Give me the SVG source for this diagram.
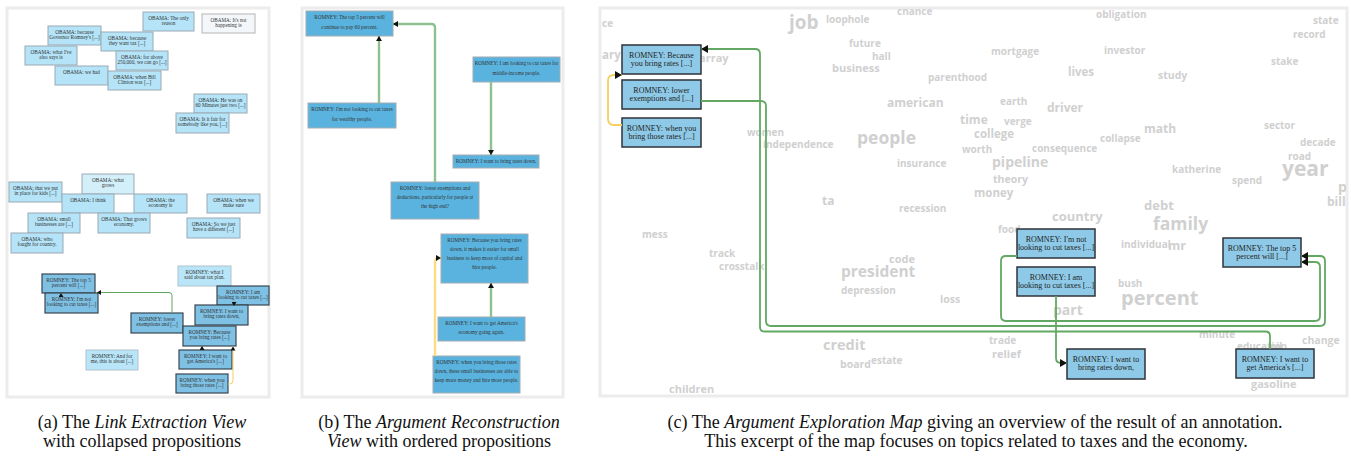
<svg xmlns="http://www.w3.org/2000/svg" width="1351" height="462" viewBox="0 0 1351 462">
<style>
.frame{fill:#fff;stroke:#ececec;stroke-width:3}
.oa{fill:#b5e4f8;stroke:#9aaab4;stroke-width:1}
.ol{fill:#d3f0fa;stroke:#9aaab4;stroke-width:1}
.og{fill:#f3f7fa;stroke:#b4b4b4;stroke-width:1}
.ra{fill:#7fc1e4;stroke:#3a4650;stroke-width:1.2}
.rl{fill:#b8e6f8;stroke:#b0c4cc;stroke-width:1}
.rb{fill:#5ab3df;stroke:#a4acb4;stroke-width:1}
.rc{fill:#8ecae8;stroke:#2e3338;stroke-width:1.5}
.ta{font-family:"Liberation Serif",serif;font-size:5.2px;fill:#333;text-anchor:middle}
.tb{font-family:"Liberation Serif",serif;font-size:5.2px;fill:#333;text-anchor:middle}
.tc{font-family:"Liberation Serif",serif;font-size:8px;fill:#222;text-anchor:middle}
.w{font-family:"Open Sans",sans-serif;font-weight:700;fill:#d0d0d0}
.ga{fill:none;stroke:#5fa55f;stroke-width:1}
.ya{fill:none;stroke:#f5cf62;stroke-width:1}
.gb{fill:none;stroke:#8fc08f;stroke-width:2.4}
.yb{fill:none;stroke:#fbdc84;stroke-width:2.4}
.gc{fill:none;stroke:#62a862;stroke-width:1.8}
.yc{fill:none;stroke:#f5cf62;stroke-width:1.8}
.cap{font-family:"Liberation Serif",serif;font-size:18px;fill:#111;text-anchor:middle}
</style>
<defs>
<marker id="ma" markerUnits="userSpaceOnUse" markerWidth="5" markerHeight="5" refX="4" refY="2.5" orient="auto"><path d="M0,0 L4,2.5 L0,5 z" fill="#111"/></marker>
<marker id="mb" markerUnits="userSpaceOnUse" markerWidth="6" markerHeight="6" refX="5" refY="3" orient="auto"><path d="M0,0 L5,3 L0,6 z" fill="#111"/></marker>
<marker id="mc" markerUnits="userSpaceOnUse" markerWidth="8" markerHeight="8" refX="7" refY="4" orient="auto"><path d="M0,0 L7,4 L0,8 z" fill="#111"/></marker>
<clipPath id="cc"><rect x="601" y="9" width="745" height="386"/></clipPath>
</defs>
<rect x="0" y="0" width="1351" height="462" fill="#fff"/>
<g id="frames">
<rect class="frame" x="7" y="8" width="262" height="389"/>
<rect class="frame" x="302" y="8" width="261" height="389"/>
<rect class="frame" x="600" y="8" width="747" height="388"/>
</g>
<g id="wordcloud" clip-path="url(#cc)">
<text class="w" x="602" y="27" font-size="10">ce</text>
<text class="w" x="789" y="29" font-size="19">job</text>
<text class="w" x="826" y="23" font-size="10">loophole</text>
<text class="w" x="897" y="15" font-size="10">chance</text>
<text class="w" x="1096" y="18" font-size="10">obligation</text>
<text class="w" x="1313" y="24" font-size="10">state</text>
<text class="w" x="1293" y="38" font-size="10">record</text>
<text class="w" x="602" y="59" font-size="11.5">ary</text>
<text class="w" x="699" y="62" font-size="11">array</text>
<text class="w" x="849" y="47" font-size="10">future</text>
<text class="w" x="872" y="60" font-size="10">hall</text>
<text class="w" x="832" y="72" font-size="11">business</text>
<text class="w" x="928" y="81" font-size="10">parenthood</text>
<text class="w" x="991" y="55" font-size="10">mortgage</text>
<text class="w" x="1104" y="54" font-size="10">investor</text>
<text class="w" x="1271" y="65" font-size="10">stake</text>
<text class="w" x="1068" y="76" font-size="11.5">lives</text>
<text class="w" x="1158" y="79" font-size="10.5">study</text>
<text class="w" x="887" y="107" font-size="12">american</text>
<text class="w" x="1000" y="105" font-size="10">earth</text>
<text class="w" x="1047" y="112" font-size="12">driver</text>
<text class="w" x="960" y="124" font-size="12">time</text>
<text class="w" x="1004" y="125" font-size="10">verge</text>
<text class="w" x="1144" y="133" font-size="12">math</text>
<text class="w" x="1264" y="129" font-size="10">sector</text>
<text class="w" x="974" y="138" font-size="11.5">college</text>
<text class="w" x="1100" y="142" font-size="10">collapse</text>
<text class="w" x="747" y="136" font-size="10">women</text>
<text class="w" x="763" y="148" font-size="10">independence</text>
<text class="w" x="857" y="144" font-size="17.5">people</text>
<text class="w" x="962" y="153" font-size="10">worth</text>
<text class="w" x="1032" y="152" font-size="10">consequence</text>
<text class="w" x="1300" y="146" font-size="10">decade</text>
<text class="w" x="1288" y="160" font-size="10">road</text>
<text class="w" x="897" y="167" font-size="10">insurance</text>
<text class="w" x="992" y="167" font-size="14">pipeline</text>
<text class="w" x="1172" y="173" font-size="10">katherine</text>
<text class="w" x="1282" y="176" font-size="21">year</text>
<text class="w" x="1232" y="184" font-size="10">spend</text>
<text class="w" x="993" y="183" font-size="10.5">theory</text>
<text class="w" x="974" y="197" font-size="11.5">money</text>
<text class="w" x="1338" y="192" font-size="14">pl</text>
<text class="w" x="822" y="205" font-size="12">ta</text>
<text class="w" x="899" y="212" font-size="10">recession</text>
<text class="w" x="1327" y="206" font-size="12">bill</text>
<text class="w" x="1144" y="210" font-size="13">debt</text>
<text class="w" x="1052" y="221" font-size="13">country</text>
<text class="w" x="1153" y="230" font-size="17.5">family</text>
<text class="w" x="998" y="233" font-size="10">food</text>
<text class="w" x="1121" y="248" font-size="10">individual</text>
<text class="w" x="1168" y="250" font-size="12.5">mr</text>
<text class="w" x="642" y="238" font-size="10">mess</text>
<text class="w" x="709" y="257" font-size="10">track</text>
<text class="w" x="719" y="270" font-size="10">crosstalk</text>
<text class="w" x="889" y="263" font-size="11">code</text>
<text class="w" x="841" y="277" font-size="15.5">president</text>
<text class="w" x="1118" y="287" font-size="10">bush</text>
<text class="w" x="841" y="294" font-size="10">depression</text>
<text class="w" x="940" y="303" font-size="10.5">loss</text>
<text class="w" x="1121" y="305" font-size="20">percent</text>
<text class="w" x="1053" y="315" font-size="14">part</text>
<text class="w" x="1199" y="338" font-size="10">minute</text>
<text class="w" x="989" y="344" font-size="10">trade</text>
<text class="w" x="1302" y="344" font-size="10.5">change</text>
<text class="w" x="823" y="350" font-size="14.5">credit</text>
<text class="w" x="992" y="358" font-size="11">relief</text>
<text class="w" x="1237" y="350" font-size="10">education</text>
<text class="w" x="1270" y="350" font-size="10">oil</text>
<text class="w" x="840" y="368" font-size="10.5">board</text>
<text class="w" x="871" y="364" font-size="10">estate</text>
<text class="w" x="1251" y="388" font-size="11">gasoline</text>
<text class="w" x="669" y="393" font-size="11">children</text>
</g>
<g id="panel-a">
<g id="a1"><rect class="oa" x="143" y="12" width="51" height="19"/><text class="ta" x="168.5" y="19.5">OBAMA: The only</text><text class="ta" x="168.5" y="25">reason</text></g>
<g id="a2"><rect class="og" x="202" y="14" width="53" height="19"/><text class="ta" x="228.5" y="21.5">OBAMA: It's not</text><text class="ta" x="228.5" y="27">happening is</text></g>
<g id="a3"><rect class="oa" x="48" y="26" width="53" height="19"/><text class="ta" x="74.5" y="33.5">OBAMA: because</text><text class="ta" x="74.5" y="39">Governor Romney's [...]</text></g>
<g id="a4"><rect class="oa" x="101" y="32" width="52" height="19"/><text class="ta" x="127" y="39.5">OBAMA: because</text><text class="ta" x="127" y="45">they want tax [...]</text></g>
<g id="a5"><rect class="oa" x="25" y="46" width="52" height="19"/><text class="ta" x="51" y="53.5">OBAMA: what I've</text><text class="ta" x="51" y="59">also says is</text></g>
<g id="a6"><rect class="oa" x="116" y="51" width="52" height="19"/><text class="ta" x="142" y="58.5">OBAMA: for above</text><text class="ta" x="142" y="64">250,000, we can go [...]</text></g>
<g id="a7"><rect class="oa" x="55" y="66" width="53" height="19"/><text class="ta" x="81.5" y="74">OBAMA: we had</text></g>
<g id="a8"><rect class="oa" x="108" y="71" width="53" height="19"/><text class="ta" x="134.5" y="78.5">OBAMA: when Bill</text><text class="ta" x="134.5" y="84">Clinton was [...]</text></g>
<g id="a9"><rect class="oa" x="194" y="94" width="53" height="19"/><text class="ta" x="220.5" y="101.5">OBAMA: He was on</text><text class="ta" x="220.5" y="107">60 Minutes just two [...]</text></g>
<g id="a10"><rect class="oa" x="176" y="113" width="53" height="20"/><text class="ta" x="202.5" y="120.5">OBAMA: Is it fair for</text><text class="ta" x="202.5" y="126">somebody like you, [...]</text></g>
<g id="a11"><rect class="ol" x="82" y="174" width="52" height="20"/><text class="ta" x="108" y="181.5">OBAMA: what</text><text class="ta" x="108" y="187">grows</text></g>
<g id="a12"><rect class="oa" x="9" y="182" width="53" height="20"/><text class="ta" x="35.5" y="189.5">OBAMA: that we put</text><text class="ta" x="35.5" y="195">in place for kids [...]</text></g>
<g id="a13"><rect class="oa" x="62" y="194" width="52" height="19"/><text class="ta" x="88" y="202">OBAMA: I think</text></g>
<g id="a14"><rect class="oa" x="134" y="194" width="53" height="19"/><text class="ta" x="160.5" y="201.5">OBAMA: the</text><text class="ta" x="160.5" y="207">economy is</text></g>
<g id="a15"><rect class="oa" x="207" y="194" width="53" height="19"/><text class="ta" x="233.5" y="201.5">OBAMA: when we</text><text class="ta" x="233.5" y="207">make sure</text></g>
<g id="a16"><rect class="oa" x="28" y="213" width="52" height="20"/><text class="ta" x="54" y="220.5">OBAMA: small</text><text class="ta" x="54" y="226">businesses are [...]</text></g>
<g id="a17"><rect class="oa" x="98" y="213" width="52" height="20"/><text class="ta" x="124" y="220.5">OBAMA: That grows</text><text class="ta" x="124" y="226">economy.</text></g>
<g id="a18"><rect class="oa" x="187" y="218" width="53" height="20"/><text class="ta" x="213.5" y="225.5">OBAMA: So we just</text><text class="ta" x="213.5" y="231">have a different [...]</text></g>
<g id="a19"><rect class="oa" x="11" y="233" width="52" height="20"/><text class="ta" x="37" y="240.5">OBAMA: who</text><text class="ta" x="37" y="246">fought for country.</text></g>
<g id="a20"><rect class="rl" x="178" y="266" width="53" height="20"/><text class="ta" x="204.5" y="273.5">ROMNEY: what I</text><text class="ta" x="204.5" y="279">said about tax plan.</text></g>
<g id="a21"><rect class="ra" x="42" y="274" width="53" height="19"/><text class="ta" x="68.5" y="281.5">ROMNEY: The top 5</text><text class="ta" x="68.5" y="287">percent will [...]</text></g>
<g id="a22"><rect class="ra" x="45" y="293" width="53" height="20"/><text class="ta" x="71.5" y="300.5">ROMNEY: I'm not</text><text class="ta" x="71.5" y="306">looking to cut taxes [...]</text></g>
<g id="a23"><rect class="ra" x="217" y="286" width="52" height="19"/><text class="ta" x="243" y="293.5">ROMNEY: I am</text><text class="ta" x="243" y="299">looking to cut taxes [...]</text></g>
<g id="a24"><rect class="ra" x="131" y="313" width="52" height="20"/><text class="ta" x="157" y="320.5">ROMNEY: lower</text><text class="ta" x="157" y="326">exemptions and [...]</text></g>
<g id="a25"><rect class="ra" x="195" y="305" width="53" height="20"/><text class="ta" x="221.5" y="312.5">ROMNEY: I want to</text><text class="ta" x="221.5" y="318">bring rates down,</text></g>
<g id="a26"><rect class="ra" x="183" y="326" width="53" height="20"/><text class="ta" x="209.5" y="333.5">ROMNEY: Because</text><text class="ta" x="209.5" y="339">you bring rates [...]</text></g>
<g id="a27"><rect class="rl" x="86" y="350" width="52" height="20"/><text class="ta" x="112" y="357.5">ROMNEY: And for</text><text class="ta" x="112" y="363">me, this is about [...]</text></g>
<g id="a28"><rect class="ra" x="179" y="350" width="53" height="19"/><text class="ta" x="205.5" y="357.5">ROMNEY: I want to</text><text class="ta" x="205.5" y="363">get America's [...]</text></g>
<g id="a29"><rect class="ra" x="176" y="374" width="52" height="19"/><text class="ta" x="202" y="381.5">ROMNEY: when you</text><text class="ta" x="202" y="387">bring those rates [...]</text></g>
</g>
<g id="panel-b">
<g id="b1"><rect class="rb" x="306" y="11" width="87" height="25"/><text class="tb" x="349.5" y="19">ROMNEY: The top 5 percent will</text><text class="tb" x="349.5" y="28.5">continue to pay 60 percent.</text></g>
<g id="b2"><rect class="rb" x="308" y="103" width="88" height="25"/><text class="tb" x="352" y="111">ROMNEY: I'm not looking to cut taxes</text><text class="tb" x="352" y="120.5">for wealthy people.</text></g>
<g id="b3"><rect class="rb" x="473" y="57" width="87" height="25"/><text class="tb" x="516.5" y="65">ROMNEY: I am looking to cut taxes for</text><text class="tb" x="516.5" y="74.5">middle-income people.</text></g>
<g id="b4"><rect class="rb" x="453" y="155" width="86" height="13"/><text class="tb" x="496" y="163">ROMNEY: I want to bring rates down.</text></g>
<g id="b5"><rect class="rb" x="391" y="182" width="88" height="37"/><text class="tb" x="435" y="190">ROMNEY: lower exemptions and</text><text class="tb" x="435" y="199">deductions, particularly for people at</text><text class="tb" x="435" y="208">the high end?</text></g>
<g id="b6"><rect class="rb" x="441" y="234" width="87" height="49"/><text class="tb" x="484.5" y="242">ROMNEY: Because you bring rates</text><text class="tb" x="484.5" y="251">down, it makes it easier for small</text><text class="tb" x="484.5" y="260">business to keep more of capital and</text><text class="tb" x="484.5" y="269">hire people.</text></g>
<g id="b7"><rect class="rb" x="438" y="317" width="87" height="24"/><text class="tb" x="481.5" y="325">ROMNEY: I want to get America's</text><text class="tb" x="481.5" y="334">economy going again.</text></g>
<g id="b8"><rect class="rb" x="433" y="356" width="87" height="37"/><text class="tb" x="476.5" y="364">ROMNEY: when you bring those rates</text><text class="tb" x="476.5" y="373">down, these small businesses are able to</text><text class="tb" x="476.5" y="382">keep more money and hire more people.</text></g>
</g>
<g id="panel-c">
<g id="c1"><rect class="rc" x="622" y="45" width="79" height="29"/><text class="tc" x="661.5" y="57.5">ROMNEY: Because</text><text class="tc" x="661.5" y="65.5">you bring rates [...]</text></g>
<g id="c2"><rect class="rc" x="622" y="80" width="79" height="29"/><text class="tc" x="661.5" y="92.5">ROMNEY: lower</text><text class="tc" x="661.5" y="100.5">exemptions and [...]</text></g>
<g id="c3"><rect class="rc" x="622" y="118" width="79" height="29"/><text class="tc" x="661.5" y="130.5">ROMNEY: when you</text><text class="tc" x="661.5" y="138.5">bring those rates [...]</text></g>
<g id="c4"><rect class="rc" x="1017" y="229" width="78" height="29"/><text class="tc" x="1056" y="241.5">ROMNEY: I'm not</text><text class="tc" x="1056" y="249.5">looking to cut taxes [...]</text></g>
<g id="c5"><rect class="rc" x="1017" y="267" width="78" height="29"/><text class="tc" x="1056" y="279.5">ROMNEY: I am</text><text class="tc" x="1056" y="287.5">looking to cut taxes [...]</text></g>
<g id="c6"><rect class="rc" x="1223" y="238" width="78" height="29"/><text class="tc" x="1262" y="250.5">ROMNEY: The top 5</text><text class="tc" x="1262" y="258.5">percent will [...]</text></g>
<g id="c7"><rect class="rc" x="1067" y="349" width="78" height="30"/><text class="tc" x="1106" y="361.5">ROMNEY: I want to</text><text class="tc" x="1106" y="369.5">bring rates down,</text></g>
<g id="c8"><rect class="rc" x="1236" y="349" width="78" height="29"/><text class="tc" x="1275" y="361.5">ROMNEY: I want to</text><text class="tc" x="1275" y="369.5">get America's [...]</text></g>
</g>
<g id="connectors">
<path class="ga" d="M172,313 V295.5 Q172,292.5 169,292.5 H97" marker-end="url(#ma)"/>
<path class="ga" stroke="none" d="M61,297 V293" marker-end="url(#ma)"/>
<path class="ga" stroke="none" d="M234,301 V306" marker-end="url(#ma)"/>
<path class="ga" stroke="none" d="M202,350 V346" marker-end="url(#ma)"/>
<path class="ya" d="M228,384 H229.5 Q233,384 233,380.5 V346.5" marker-end="url(#ma)"/>
<path class="gb" d="M379,103 V36" marker-end="url(#mb)"/>
<path class="gb" d="M435,182 V27.5 Q435,24 431.5,24 H393" marker-end="url(#mb)"/>
<path class="gb" d="M491,82 V155" marker-end="url(#mb)"/>
<path class="gb" d="M491,317 V283" marker-end="url(#mb)"/>
<path class="yb" d="M435,356 V262 Q435,258 439,258 H441" marker-end="url(#mb)"/>
<path class="gc" d="M1270,349 V336 Q1270,331.5 1265.5,331.5 H764.5 Q760,331.5 760,327 V54 Q760,49 755,49 H701" marker-end="url(#mc)"/>
<path class="gc" d="M701,101 H761 Q766,101 766,106 V321 Q766,326 771,326 H1320 Q1325,326 1325,321 V261 Q1325,256 1320,256 H1301" marker-end="url(#mc)"/>
<path class="gc" d="M1017,256 H1006 Q1001,256 1001,261 V316 Q1001,321 1006,321 H1315 Q1320,321 1320,316 V267 Q1320,262 1315,262 H1301" marker-end="url(#mc)"/>
<path class="gc" d="M1056,296 V358 Q1056,363 1061,363 H1067" marker-end="url(#mc)"/>
<path class="yc" d="M622,125 H614 Q608,125 608,119 V81 Q608,75 614,75 H622" marker-end="url(#mc)"/>
</g>
<g id="captions">
<text class="cap" x="142" y="428">(a) The <tspan font-style="italic">Link Extraction View</tspan></text>
<text class="cap" x="142" y="447">with collapsed propositions</text>
<text class="cap" x="439" y="428">(b) The <tspan font-style="italic">Argument Reconstruction</tspan></text>
<text class="cap" x="439" y="447"><tspan font-style="italic">View</tspan> with ordered propositions</text>
<text class="cap" x="975" y="428">(c) The <tspan font-style="italic">Argument Exploration Map</tspan> giving an overview of the result of an annotation.</text>
<text class="cap" x="976" y="447">This excerpt of the map focuses on topics related to taxes and the economy.</text>
</g>
</svg>
